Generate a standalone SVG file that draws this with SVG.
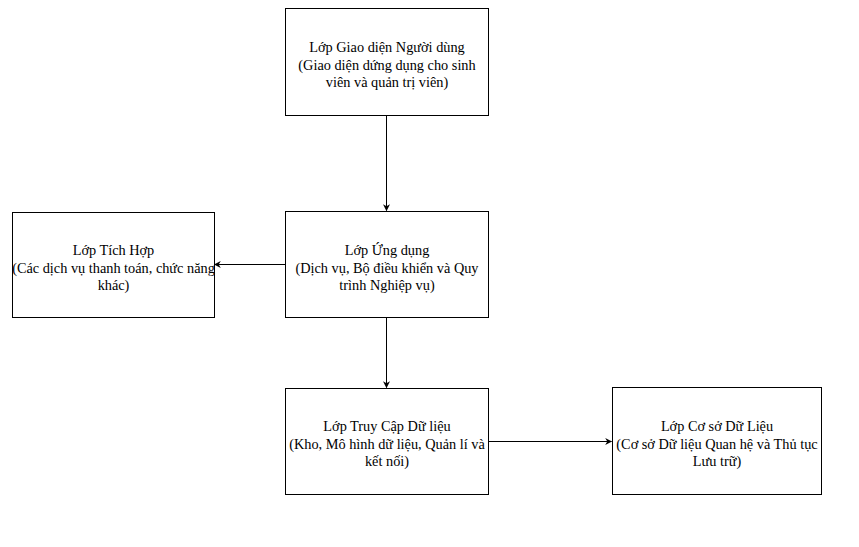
<svg xmlns="http://www.w3.org/2000/svg" width="859" height="547" viewBox="0 0 859 547">
<style>
  .box { fill: #ffffff; stroke: #000000; stroke-width: 1; }
  .lbl { font-family: "Liberation Serif", "DejaVu Serif", "Times New Roman", serif; font-size: 14.3px; fill: #000000; text-anchor: middle; }
  .edge { fill: none; stroke: #000000; stroke-width: 1; }
</style>
<defs>
  <marker id="arrow" viewBox="0 0 10 10" refX="9" refY="5" markerWidth="7" markerHeight="7" orient="auto" markerUnits="userSpaceOnUse">
    <path d="M0,0 L10,5 L0,10 L3,5 Z" fill="#000000"/>
  </marker>
</defs>
<rect width="859" height="547" fill="#ffffff"/>
<g id="connectors">
  <path class="edge" d="M386.5,115.5 L386.5,210.5" marker-end="url(#arrow)"/>
  <path class="edge" d="M285.5,264.5 L214.5,264.5" marker-end="url(#arrow)"/>
  <path class="edge" d="M386.5,317.5 L386.5,387.5" marker-end="url(#arrow)"/>
  <path class="edge" d="M488.5,441.5 L611.5,441.5" marker-end="url(#arrow)"/>
</g>
<g id="node-ui">
  <rect class="box" x="285.5" y="8.5" width="203" height="107"/>
  <text class="lbl" x="387" y="52">Lớp Giao diện Người dùng</text>
  <text class="lbl" x="387" y="69.5">(Giao diện dứng dụng cho sinh</text>
  <text class="lbl" x="387" y="87">viên và quản trị viên)</text>
</g>
<g id="node-app">
  <rect class="box" x="285.5" y="211.5" width="203" height="106"/>
  <text class="lbl" x="387" y="255">Lớp Ứng dụng</text>
  <text class="lbl" x="387" y="272.5">(Dịch vụ, Bộ điều khiển và Quy</text>
  <text class="lbl" x="387" y="290">trình Nghiệp vụ)</text>
</g>
<g id="node-integration">
  <rect class="box" x="12.5" y="212.5" width="202" height="105"/>
  <text class="lbl" x="113.5" y="255">Lớp Tích Hợp</text>
  <text class="lbl" x="113.5" y="272.5">(Các dịch vụ thanh toán, chức năng</text>
  <text class="lbl" x="113.5" y="290">khác)</text>
</g>
<g id="node-data-access">
  <rect class="box" x="285.5" y="388.5" width="203" height="106"/>
  <text class="lbl" x="387" y="431">Lớp Truy Cập Dữ liệu</text>
  <text class="lbl" x="387" y="448.5">(Kho, Mô hình dữ liệu, Quản lí và</text>
  <text class="lbl" x="387" y="466">kết nối)</text>
</g>
<g id="node-database">
  <rect class="box" x="612.5" y="387.5" width="209" height="107"/>
  <text class="lbl" x="717" y="431">Lớp Cơ sở Dữ Liệu</text>
  <text class="lbl" x="717" y="448.5">(Cơ sở Dữ liệu Quan hệ và Thủ tục</text>
  <text class="lbl" x="717" y="466">Lưu trữ)</text>
</g>
</svg>
